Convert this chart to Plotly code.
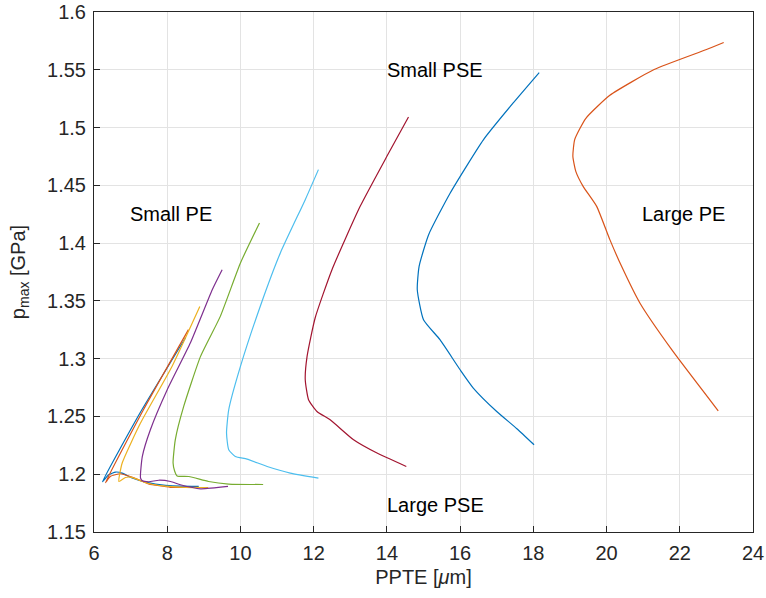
import plotly.graph_objects as go

# ---- data (PPTE [um], p_max [GPa]) ----
c1_x = [8.50, 7.26, 6.23, 6.40, 6.59, 6.77, 7.04, 7.41, 7.95, 8.86]
c1_y = [1.3181, 1.2532, 1.1935, 1.1995, 1.2019, 1.2010, 1.1967, 1.1932, 1.1904, 1.1894]

c2_x = [8.58, 7.35, 6.31, 6.45, 6.72, 7.05, 7.49, 8.09, 8.85]
c2_y = [1.3251, 1.2558, 1.1926, 1.1982, 1.2004, 1.1974, 1.1917, 1.1887, 1.1887]

c3_x = [8.89, 8.13, 7.27, 6.77, 6.68, 6.86, 7.00, 7.19, 7.46, 7.95, 8.50, 9.12]
c3_y = [1.3452, 1.2933, 1.2443, 1.2097, 1.1937, 1.1972, 1.1975, 1.1955, 1.1922, 1.1897, 1.1885, 1.1885]

c4_x = [9.50, 9.23, 8.63, 8.00, 7.54, 7.32, 7.27, 7.32, 7.50, 7.77, 8.09, 8.36, 8.91, 9.66]
c4_y = [1.3770, 1.3597, 1.3135, 1.2731, 1.2385, 1.2154, 1.1969, 1.1943, 1.1935, 1.1948, 1.1937, 1.1909, 1.1874, 1.1894]

c5_x = [10.52, 10.00, 9.45, 8.91, 8.45, 8.22, 8.16, 8.20, 8.27, 8.59, 9.13, 9.68, 10.62]
c5_y = [1.4174, 1.3828, 1.3366, 1.3020, 1.2587, 1.2298, 1.2097, 1.2030, 1.1985, 1.1980, 1.1937, 1.1915, 1.1911]

c6_x = [12.13, 11.77, 11.09, 10.54, 10.00, 9.68, 9.62, 9.68, 9.86, 10.18, 10.73, 11.36, 12.13]
c6_y = [1.4636, 1.4376, 1.3915, 1.3452, 1.2933, 1.2558, 1.2356, 1.2212, 1.2154, 1.2131, 1.2067, 1.2010, 1.1967]

c7_x = [14.59, 14.00, 13.27, 12.50, 12.04, 11.82, 11.77, 11.86, 12.09, 12.45, 13.09, 13.73, 14.53]
c7_y = [1.5092, 1.4751, 1.4318, 1.3770, 1.3352, 1.3020, 1.2818, 1.2645, 1.2543, 1.2471, 1.2298, 1.2183, 1.2067]

c8_x = [18.16, 17.45, 16.64, 15.73, 15.14, 14.88, 14.83, 15.00, 15.45, 16.00, 16.36, 17.00, 17.55, 18.02]
c8_y = [1.5476, 1.5213, 1.4896, 1.4434, 1.4073, 1.3799, 1.3597, 1.3337, 1.3164, 1.2904, 1.2746, 1.2543, 1.2394, 1.2255]

c9_x = [23.20, 22.73, 21.30, 20.09, 19.43, 19.13, 19.08, 19.16, 19.36, 19.73, 20.09, 20.41, 20.91, 21.78, 23.05]
c9_y = [1.5736, 1.5675, 1.5502, 1.5279, 1.5078, 1.4896, 1.4751, 1.4621, 1.4491, 1.4318, 1.4030, 1.3799, 1.3482, 1.3078, 1.2549]

curves = [(c1_x, c1_y), (c2_x, c2_y), (c3_x, c3_y), (c4_x, c4_y), (c5_x, c5_y),
          (c6_x, c6_y), (c7_x, c7_y), (c8_x, c8_y), (c9_x, c9_y)]
colors = ["#0072BD", "#D95319", "#EDB120", "#7E2F8E", "#77AC30",
          "#4DBEEE", "#A2142F", "#0072BD", "#D95319"]

label_text = ["Small PE", "Small PSE", "Large PE", "Large PSE"]
label_x = [8.11, 15.32, 22.11, 15.32]
label_y = [1.4255, 1.550, 1.4255, 1.1736]

x_ticks = [6, 8, 10, 12, 14, 16, 18, 20, 22, 24]
y_tick_labels = ["1.15", "1.2", "1.25", "1.3", "1.35", "1.4", "1.45", "1.5", "1.55", "1.6"]

FONT = "Liberation Sans, Arial, sans-serif"

fig = go.Figure()
for (xs, ys), col in zip(curves, colors):
    fig.add_trace(go.Scatter(x=xs, y=ys, mode="lines",
                             line=dict(color=col, width=1.2, shape="spline", smoothing=0.5),
                             showlegend=False, hoverinfo="skip"))

for t, x, y in zip(label_text, label_x, label_y):
    fig.add_annotation(x=x, y=y, text=t, showarrow=False,
                       font=dict(family=FONT, size=20, color="#000000"),
                       xanchor="center", yanchor="middle")

axis_common = dict(showgrid=True, gridcolor="#e3e3e3", gridwidth=1,
                   showline=True, linecolor="#262626", linewidth=1, mirror=True,
                   ticks="inside", ticklen=6, tickcolor="#262626", tickwidth=1,
                   zeroline=False, ticklabelstandoff=3,
                   tickfont=dict(family=FONT, size=20, color="#262626"))

fig.update_xaxes(range=[6, 24], tickvals=x_ticks,
                 ticktext=[str(v) for v in x_ticks],
                 title=dict(text="PPTE [<i>μ</i>m]", standoff=6,
                            font=dict(family=FONT, size=20, color="#262626")),
                 **axis_common)
fig.update_yaxes(range=[1.15, 1.6], tickvals=[float(v) for v in y_tick_labels],
                 ticktext=y_tick_labels,
                 title=dict(text="p<sub>max</sub> [GPa]", standoff=16,
                            font=dict(family=FONT, size=20, color="#262626")),
                 **axis_common)

fig.update_layout(width=766, height=598,
                  margin=dict(l=94, r=13, t=12, b=66, autoexpand=False),
                  paper_bgcolor="white", plot_bgcolor="white")

fig.write_html("out.html")
